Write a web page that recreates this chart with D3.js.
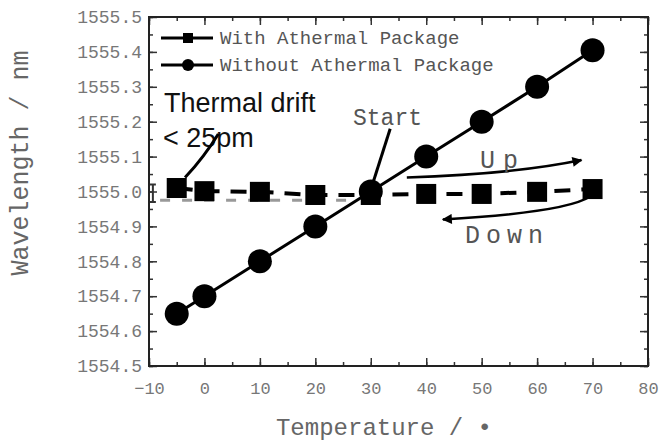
<!DOCTYPE html>
<html>
<head>
<meta charset="utf-8">
<script src="https://cdn.jsdelivr.net/npm/d3@7"></script>
<style>
  body { margin: 0; background: #fff; }
  svg { display: block; }
  .axis text { font-family: "Liberation Mono", monospace; fill: #777; }
</style>
</head>
<body>
<svg width="664" height="441"></svg>
<script>
// data
const temps = [-5, 0, 10, 20, 30, 40, 50, 60, 70];
const withPackage = [1555.010, 1555.001, 1554.999, 1554.990, 1554.990, 1554.993, 1554.993, 1554.999, 1555.007];
const withoutPackage = [1554.65, 1554.70, 1554.80, 1554.90, 1555.00, 1555.10, 1555.20, 1555.30, 1555.405];
const seriesNames = ["With Athermal Package", "Without Athermal Package"];
const xTicks = [-10, 0, 10, 20, 30, 40, 50, 60, 70, 80];
const yTicks = [1554.5, 1554.6, 1554.7, 1554.8, 1554.9, 1555.0, 1555.1, 1555.2, 1555.3, 1555.4, 1555.5];
const downBaseline = [[-8, 1554.975], [27, 1554.975]];

const svg = d3.select("svg");
const margin = { top: 17, right: 16, bottom: 75, left: 149 };
const width = +svg.attr("width") - margin.left - margin.right;
const height = +svg.attr("height") - margin.top - margin.bottom;

const g = svg.append("g").attr("transform", "translate(" + margin.left + "," + margin.top + ")");

const x = d3.scaleLinear().domain([-10, 80]).range([0, width]);
const y = d3.scaleLinear().domain([1554.5, 1555.5]).range([height, 0]);

// minor ticks first, then major ones
const xMinor = d3.range(-10, 80.1, 5);
const yMinor = d3.range(0, 21).map(i => 1554.5 + i * 0.05);

function ticks(axis, values, size) {
    return axis.tickValues(values).tickSize(-size).tickFormat("");
}

g.append("g").attr("class", "axis").attr("transform", "translate(0," + height + ")")
    .call(ticks(d3.axisBottom(x), xMinor, 4));
g.append("g").attr("class", "axis").call(ticks(d3.axisTop(x), xMinor, 4));
g.append("g").attr("class", "axis").call(ticks(d3.axisLeft(y), yMinor, 4));
g.append("g").attr("class", "axis").attr("transform", "translate(" + width + ",0)")
    .call(ticks(d3.axisRight(y), yMinor, 4));

const xAxis = g.append("g").attr("class", "axis").attr("transform", "translate(0," + height + ")")
    .call(d3.axisBottom(x).tickValues(xTicks).tickSize(-8).tickFormat(d3.format("d")));
xAxis.selectAll("text").attr("y", 22).attr("dy", "0.35em").attr("font-size", 17)
    .text(d => d < 0 ? "\u2212" + Math.abs(d) : d);

const yAxis = g.append("g").attr("class", "axis")
    .call(d3.axisLeft(y).tickValues(yTicks).tickSize(-8).tickFormat(d3.format(".1f")));
yAxis.selectAll("text").attr("x", -7).attr("font-size", 18);

g.append("g").attr("class", "axis").call(ticks(d3.axisTop(x), xTicks, 8));
g.append("g").attr("class", "axis").attr("transform", "translate(" + width + ",0)")
    .call(ticks(d3.axisRight(y), yTicks, 8));

g.selectAll(".axis .domain").remove();
g.selectAll(".axis line").attr("stroke", "#333").attr("stroke-width", 1.5);

g.append("rect")
    .attr("width", width).attr("height", height)
    .attr("fill", "none").attr("stroke", "#222").attr("stroke-width", 2);

// axis titles
svg.append("text")
    .attr("transform", "translate(28," + (margin.top + 146) + ") rotate(-90)")
    .attr("text-anchor", "middle")
    .attr("font-family", "Liberation Mono, monospace")
    .attr("font-size", 25).attr("fill", "#666")
    .text("Wavelength / nm");

svg.append("text")
    .attr("x", 384).attr("y", 435)
    .attr("text-anchor", "middle")
    .attr("font-family", "Liberation Mono, monospace")
    .attr("font-size", 24).attr("fill", "#666")
    .text("Temperature / \u2022");

// grey dashed return path
g.append("path")
    .datum(downBaseline)
    .attr("fill", "none").attr("stroke", "#999").attr("stroke-width", 3)
    .attr("stroke-dasharray", "10 12")
    .attr("d", d3.line().x(d => x(d[0])).y(d => y(d[1])));

// small drift bracket near the left axis
const bx = x(-9.3);
g.append("path")
    .attr("fill", "none").attr("stroke", "#333").attr("stroke-width", 2)
    .attr("d", `M${bx - 3},${y(1555.02)}H${bx + 3}M${bx},${y(1555.02)}V${y(1554.97)}M${bx - 3},${y(1554.97)}H${bx + 3}`);

const withData = temps.map((t, i) => ({ t: t, v: withPackage[i] }));
const withoutData = temps.map((t, i) => ({ t: t, v: withoutPackage[i] }));

const line = d3.line().x(d => x(d.t)).y(d => y(d.v));

g.append("path")
    .datum(withoutData)
    .attr("fill", "none").attr("stroke", "#000").attr("stroke-width", 3)
    .attr("d", line);

g.selectAll(".circ")
    .data(withoutData)
    .enter().append("circle")
    .attr("cx", d => x(d.t)).attr("cy", d => y(d.v)).attr("r", 12)
    .attr("fill", "#000");

g.append("path")
    .datum(withData)
    .attr("fill", "none").attr("stroke", "#000").attr("stroke-width", 4)
    .attr("stroke-dasharray", "16 11")
    .attr("d", line);

const sq = 20;
g.selectAll(".sq")
    .data(withData)
    .enter().append("rect")
    .attr("x", d => x(d.t) - sq / 2).attr("y", d => y(d.v) - sq / 2)
    .attr("width", sq).attr("height", sq)
    .attr("fill", "#000");

// legend
const legendRows = [{ name: seriesNames[0], shape: "square", yy: 21 }, { name: seriesNames[1], shape: "circle", yy: 48 }];
legendRows.forEach(r => {
    const lg = g.append("g").attr("transform", "translate(12," + r.yy + ")");
    lg.append("line").attr("x1", 0).attr("x2", 52).attr("stroke", "#000").attr("stroke-width", 3);
    if (r.shape === "square") {
        lg.append("rect").attr("x", 22).attr("y", -5).attr("width", 10).attr("height", 10).attr("fill", "#000");
    } else {
        lg.append("circle").attr("cx", 27).attr("r", 6).attr("fill", "#000");
    }
    lg.append("text").attr("x", 59).attr("y", 6)
        .attr("font-family", "Liberation Mono, monospace").attr("font-size", 19).attr("fill", "#555")
        .text(r.name);
});

// annotations
const ann = g.append("g").attr("font-family", "Liberation Sans, Arial, sans-serif");
ann.append("text").attr("x", 15).attr("y", 95).attr("font-size", 27).attr("fill", "#111").text("Thermal drift");
ann.append("text").attr("x", 14).attr("y", 130).attr("font-size", 27).attr("fill", "#111").text("< 25pm");

ann.append("path")
    .attr("fill", "none").attr("stroke", "#000").attr("stroke-width", 3)
    .attr("d", `M${x(2.5)},${y(1555.165)}Q${x(0)},${y(1555.1)} ${x(-3.5)},${y(1555.04)}`);

const mono = "Liberation Mono, monospace";
g.append("text").attr("x", 204).attr("y", 108).attr("font-family", mono).attr("font-size", 23).attr("fill", "#555").text("Start");
g.append("path")
    .attr("fill", "none").attr("stroke", "#000").attr("stroke-width", 3)
    .attr("d", `M${x(33.5)},${y(1555.18)}L${x(30.5)},${y(1555.03)}`);

g.append("defs").append("marker")
    .attr("id", "arr").attr("viewBox", "0 0 10 10").attr("refX", 9).attr("refY", 5)
    .attr("markerWidth", 5).attr("markerHeight", 4).attr("orient", "auto")
    .append("path").attr("d", "M0,0L10,5L0,10Z").attr("fill", "#000");

g.append("path")
    .attr("fill", "none").attr("stroke", "#000").attr("stroke-width", 2.5)
    .attr("marker-end", "url(#arr)")
    .attr("d", `M${x(36.5)},${y(1555.04)}Q${x(56)},${y(1555.05)} ${x(68)},${y(1555.09)}`);
g.append("text").attr("x", 331).attr("y", 151).attr("font-family", mono).attr("font-size", 25).attr("fill", "#555")
    .attr("textLength", 38).text("Up");

g.append("path")
    .attr("fill", "none").attr("stroke", "#000").attr("stroke-width", 2.5)
    .attr("marker-end", "url(#arr)")
    .attr("d", `M${x(69.5)},${y(1554.985)}Q${x(65)},${y(1554.94)} ${x(43)},${y(1554.92)}`);
g.append("text").attr("x", 316).attr("y", 226).attr("font-family", mono).attr("font-size", 25).attr("fill", "#555")
    .attr("textLength", 78).text("Down");
</script>
</body>
</html>
